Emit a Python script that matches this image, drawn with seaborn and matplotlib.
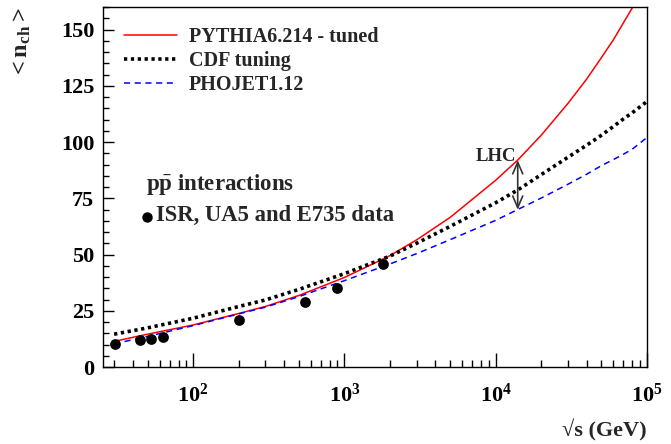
import numpy as np
import pandas as pd
import seaborn as sns
import matplotlib
matplotlib.use("Agg")
import matplotlib.pyplot as plt
from matplotlib.ticker import FixedLocator, NullFormatter, MultipleLocator

# ---- data ----
energy = [30, 50, 100, 200, 300, 500, 1000, 2000, 3000, 5000, 10000, 14000,
          20000, 30000, 40000, 50000, 60000, 70000, 80000, 100000]
pythia = [11.4, 14.6, 18.7, 23.8, 26.9, 31.8, 39.8, 49.5, 56.5, 66.5, 83.0, 92.0,
          103.0, 117.1, 128.0, 137.5, 145.4, 153.0, 159.6, 172.0]
cdf = [14.6, 17.4, 21.7, 26.9, 29.8, 34.5, 41.5, 49.3, 55.0, 62.5, 73.0, 78.7,
       85.5, 93.2, 98.6, 103.0, 106.9, 110.3, 113.0, 118.0]
phojet = [10.3, 13.6, 18.4, 23.6, 26.6, 31.3, 38.4, 45.8, 50.4, 56.6, 65.2, 70.0,
          75.1, 81.2, 85.7, 89.5, 92.2, 94.6, 96.8, 102.0]

data_energy = [30.4, 44.5, 53, 63, 200, 546, 900, 1800]
data_nch = [10.2, 11.9, 12.5, 13.4, 21.1, 29.1, 35.3, 45.7]

lhc_energy = 14000
lhc_low, lhc_high = 69.9, 92.0

labels = ["PYTHIA6.214 - tuned", "CDF tuning", "PHOJET1.12"]
xticks_major = [100, 1000, 10000, 100000]
xtick_labels = [r"$\mathbf{10^{2}}$", r"$\mathbf{10^{3}}$", r"$\mathbf{10^{4}}$", r"$\mathbf{10^{5}}$"]

# ---- style ----
sns.set_theme(style="ticks")
plt.rcParams["font.family"] = ["Liberation Serif", "DejaVu Serif"]
plt.rcParams["font.weight"] = "bold"
plt.rcParams["mathtext.fontset"] = "custom"
plt.rcParams["mathtext.rm"] = "Liberation Serif:bold"
plt.rcParams["mathtext.bf"] = "Liberation Serif:bold"
plt.rcParams["mathtext.it"] = "Liberation Serif:bold"

fig = plt.figure(figsize=(6.71, 4.44), dpi=100)
ax = fig.add_axes([0.153, 0.1734, 0.811, 0.8106])

df = pd.DataFrame({"energy": energy, "PYTHIA": pythia, "CDF": cdf, "PHOJET": phojet})

sns.lineplot(data=df, x="energy", y="PYTHIA", ax=ax, color="#ff0000", lw=1.1,
             label=labels[0])
sns.lineplot(data=df, x="energy", y="CDF", ax=ax, color="black", lw=2.6,
             label=labels[1], dashes=False)
ax.lines[-1].set_linestyle((0, (0.9, 1.0)))
sns.lineplot(data=df, x="energy", y="PHOJET", ax=ax, color="#0000ff", lw=1.1,
             label=labels[2])
ax.lines[-1].set_linestyle((0, (4, 3)))

sns.scatterplot(x=data_energy, y=data_nch, ax=ax, color="black", s=60,
                edgecolor="black", linewidth=0, zorder=5)

ax.set_xscale("log")
ax.set_xlim(25.2, 100000)
ax.set_ylim(0, 160)

# ticks (ROOT style: inward, only left/bottom)
ax.xaxis.set_major_locator(FixedLocator(xticks_major))
ax.set_xticklabels(xtick_labels)
minor = [m * 10 ** e for e in range(1, 5) for m in range(2, 10)]
ax.xaxis.set_minor_locator(FixedLocator([v for v in minor if v >= 25.2]))
ax.xaxis.set_minor_formatter(NullFormatter())
ax.yaxis.set_major_locator(MultipleLocator(25))
ax.yaxis.set_minor_locator(MultipleLocator(5))
ax.tick_params(axis="both", which="both", direction="in", top=False, right=False,
               width=1.0, colors="black")
ax.tick_params(axis="x", which="major", length=10, pad=12, labelsize=16)
ax.tick_params(axis="x", which="minor", length=5)
ax.tick_params(axis="y", which="major", length=8, pad=6, labelsize=16)
ax.tick_params(axis="y", which="minor", length=4)
for lab in ax.get_yticklabels():
    lab.set_fontweight("bold")
for s in ax.spines.values():
    s.set_visible(True)
    s.set_linewidth(1.0)
    s.set_color("black")

ax.set_xlabel("√s (GeV)", fontsize=16, fontweight="bold", loc="right")
ax.xaxis.set_label_coords(1.0, -0.145)
ax.set_ylabel(r"$\mathbf{{<}n_{ch}{>}}$", fontsize=17.5, fontweight="bold", loc="top")
ax.yaxis.set_label_coords(-0.128, 1.0)

leg = ax.legend(loc="upper left", bbox_to_anchor=(0.025, 0.966), frameon=False,
                fontsize=14.5, handlelength=2.6, labelspacing=0.18, handletextpad=0.6,
                borderaxespad=0)
for t in leg.get_texts():
    t.set_fontweight("bold")

# LHC arrow
ax.annotate("", xy=(lhc_energy, lhc_low), xytext=(lhc_energy, lhc_high),
            arrowprops=dict(arrowstyle="<->,head_length=0.7,head_width=0.3",
                            color="#333333", lw=1.2, shrinkA=0, shrinkB=0))
ax.text(lhc_energy * 0.72, 93.5, "LHC", fontsize=13.5, fontweight="bold",
        ha="center", va="center")

# annotations
ax.text(0.08, 0.492, r"p$\mathbf{\bar{p}}$ interactions", transform=ax.transAxes,
        fontsize=16.5, fontweight="bold", ha="left", va="baseline")
ax.plot([0.082], [0.418], "o", color="black", ms=6.5, transform=ax.transAxes)
ax.text(0.098, 0.4056, "ISR, UA5 and E735 data", transform=ax.transAxes,
        fontsize=16.3, fontweight="bold", ha="left", va="baseline")

fig.savefig("out.png", dpi=100)
